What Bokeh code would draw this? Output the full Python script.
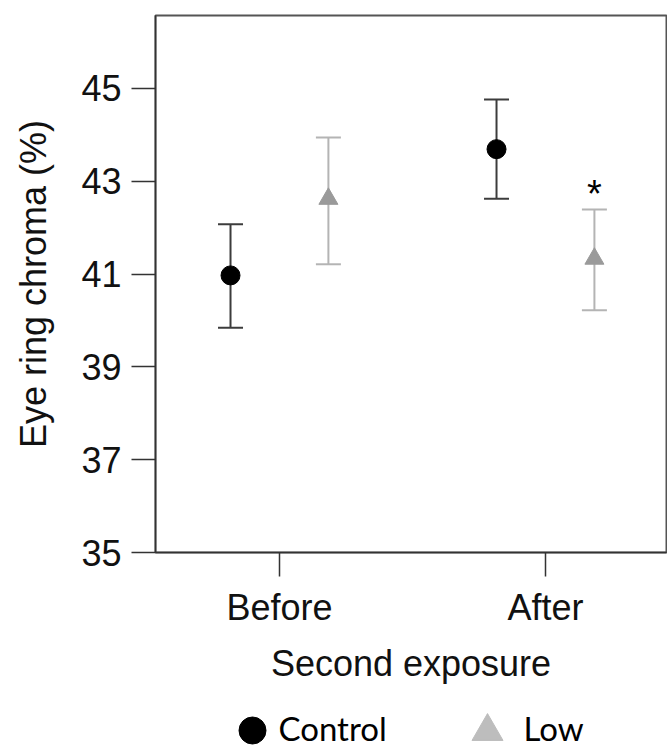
from bokeh.plotting import figure
from bokeh.models import (ColumnDataSource, Whisker, TeeHead, FixedTicker, Range1d)
from bokeh.layouts import column
from bokeh.embed import file_html
from bokeh.resources import INLINE
from bokeh.core.properties import value

# ---- data ----
categories = ["Before", "After"]
groups = ["Control", "Low"]
control_mean = [40.97, 43.69]
control_lower = [39.84, 42.62]
control_upper = [42.07, 44.76]
low_mean = [42.62, 41.33]
low_lower = [41.21, 40.22]
low_upper = [43.94, 42.39]
low_sig = ["", "*"]
y_ticks = [35, 37, 39, 41, 43, 45]
y_label = "Eye ring chroma (%)"
x_label = "Second exposure"

# ---- layout / style constants ----
OFFSET = 0.184
FONT = "Liberation Sans"
positions = [i + 1 for i in range(len(categories))]

ctrl = ColumnDataSource(dict(x=[p - OFFSET for p in positions], mean=control_mean,
                             lower=control_lower, upper=control_upper))
low = ColumnDataSource(dict(x=[p + OFFSET for p in positions], mean=low_mean,
                            lower=low_lower, upper=low_upper, sig=low_sig))

p = figure(width=667, height=700, x_range=Range1d(0.534, 2.455), y_range=Range1d(35, 46.57),
           toolbar_location=None, output_backend="svg",
           min_border_left=155, min_border_top=15, min_border_right=1, min_border_bottom=148)
p.grid.visible = False
p.outline_line_color = "#555555"
p.outline_line_width = 2
p.background_fill_color = "white"
p.border_fill_color = "white"

CTRL_BAR = "#3c3c3c"
LOW_BAR = "#b4b4b4"
for src, col in ((ctrl, CTRL_BAR), (low, LOW_BAR)):
    w = Whisker(base="x", upper="upper", lower="lower", source=src, dimension="height",
                line_color=col, line_width=2, level="underlay",
                upper_head=TeeHead(size=25, line_color=col, line_width=2),
                lower_head=TeeHead(size=25, line_color=col, line_width=2))
    p.add_layout(w)

p.scatter("x", "mean", source=ctrl, marker="circle", size=19, color="black")
p.scatter("x", "mean", source=low, marker="triangle", size=19,
          fill_color="#9a9a9a", line_color="#9a9a9a")
p.text("x", "upper", text="sig", source=low, text_font=value(FONT), text_font_size="38px",
       text_align="center", text_baseline="alphabetic", y_offset=-16, text_color="black")

for ax in (p.xaxis[0], p.yaxis[0]):
    ax.major_tick_in = 0
    ax.major_tick_out = 24
    ax.minor_tick_line_color = None
    ax.axis_line_color = "#333333"
    ax.axis_line_width = 1.5
    ax.major_tick_line_color = "#333333"
    ax.major_tick_line_width = 1.5
    ax.major_label_text_font = FONT
    ax.major_label_text_font_size = "36px"
    ax.major_label_text_color = "#111111"
    ax.major_label_standoff = 10
    ax.axis_label_text_font = FONT
    ax.axis_label_text_font_size = "36px"
    ax.axis_label_text_font_style = "normal"
    ax.axis_label_text_color = "#111111"

p.xaxis.ticker = FixedTicker(ticks=positions)
p.xaxis.major_label_overrides = {pos: lab for pos, lab in zip(positions, categories)}
p.xaxis.axis_label = x_label
p.xaxis.axis_label_standoff = 12
p.yaxis.ticker = FixedTicker(ticks=y_ticks)
p.yaxis.axis_label = y_label
p.yaxis.axis_label_standoff = 24

# ---- legend strip (frame aligned with the main figure: x in screen pixels) ----
H2 = 46
p2 = figure(width=667, height=H2, x_range=Range1d(155, 666), y_range=Range1d(0, H2),
            toolbar_location=None, output_backend="svg", x_axis_location=None,
            y_axis_location=None, min_border=0, outline_line_color=None)
p2.grid.visible = False
leg = ColumnDataSource(dict(kx=[252, 487], ky=[16, 15], tx=[278, 523], ty=[19, 19],
                            label=groups, marker=["circle", "triangle"],
                            size=[27, 31], color=["black", "#bdbdbd"]))
p2.scatter("kx", "ky", source=leg, marker="marker", size="size", color="color")
p2.text("tx", "ty", text="label", source=leg, text_font=value("Lato"),
        text_font_size="33px", text_baseline="middle", text_align="left", text_color="black")

open("out.html", "w").write(file_html(column(p, p2, spacing=0), INLINE))
